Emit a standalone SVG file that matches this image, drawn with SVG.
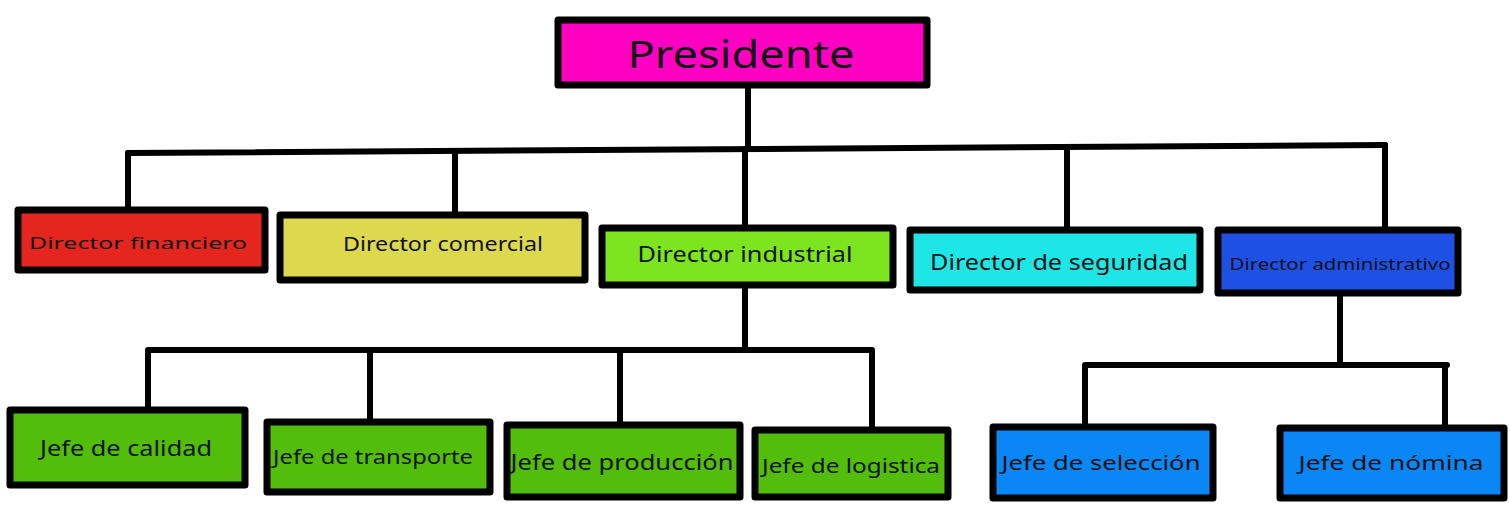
<svg xmlns="http://www.w3.org/2000/svg" width="1510" height="505" viewBox="0 0 1510 505">
<style>
.box{stroke:#000;stroke-width:7;stroke-linejoin:round}
.lbl{font-family:"Noto Sans","DejaVu Sans",sans-serif;fill:#111;text-anchor:middle;dominant-baseline:central}
.con{stroke:#000;stroke-width:6;fill:none;stroke-linecap:round;stroke-linejoin:round}
</style>
<rect width="1510" height="505" fill="#fff"/>
<g id="connectors">
<path class="con" d="M748 85 V149"/>
<path class="con" d="M128 153 L1385 145"/>
<path class="con" d="M128 153 V210 M455 151 V215 M745 149 V228 M1067 147 V230 M1385 145 V230"/>
<path class="con" d="M745 285 V350 M148 350 H872 M148 350 V410 M370 350 V422 M620 350 V425 M872 350 V430"/>
<path class="con" d="M1340 293 V365 M1085 365 H1447 M1085 365 V426 M1445 365 V428"/>
</g>
<g id="presidente"><rect class="box" x="558" y="20" width="369" height="65" fill="#ff00c3"/><text class="lbl" x="741" y="53" font-size="38" textLength="227" lengthAdjust="spacingAndGlyphs">Presidente</text></g>
<g id="dir-financiero"><rect class="box" x="18" y="210" width="247" height="60" fill="#e4261f"/><text class="lbl" x="138" y="242" font-size="17" textLength="218" lengthAdjust="spacingAndGlyphs">Director financiero</text></g>
<g id="dir-comercial"><rect class="box" x="280" y="215" width="305" height="65" fill="#dcd94e"/><text class="lbl" x="443" y="244" font-size="19" textLength="200" lengthAdjust="spacingAndGlyphs">Director comercial</text></g>
<g id="dir-industrial"><rect class="box" x="602" y="228" width="291" height="57" fill="#7de51f"/><text class="lbl" x="745" y="254" font-size="21" textLength="215" lengthAdjust="spacingAndGlyphs">Director industrial</text></g>
<g id="dir-seguridad"><rect class="box" x="910" y="230" width="290" height="60" fill="#1ee6e6"/><text class="lbl" x="1059" y="261" font-size="22" textLength="258" lengthAdjust="spacingAndGlyphs">Director de seguridad</text></g>
<g id="dir-administrativo"><rect class="box" x="1218" y="230" width="240" height="63" fill="#1f50e6"/><text class="lbl" x="1340" y="264" font-size="16" textLength="221" lengthAdjust="spacingAndGlyphs">Director administrativo</text></g>
<g id="jefe-calidad"><rect class="box" x="10" y="410" width="235" height="75" fill="#52bd0a"/><text class="lbl" x="126" y="448" font-size="21" textLength="172" lengthAdjust="spacingAndGlyphs">Jefe de calidad</text></g>
<g id="jefe-transporte"><rect class="box" x="267" y="422" width="223" height="70" fill="#52bd0a"/><text class="lbl" x="373" y="457" font-size="19" textLength="200" lengthAdjust="spacingAndGlyphs">Jefe de transporte</text></g>
<g id="jefe-produccion"><rect class="box" x="507" y="425" width="233" height="72" fill="#52bd0a"/><text class="lbl" x="622" y="462" font-size="21" textLength="223" lengthAdjust="spacingAndGlyphs">Jefe de producción</text></g>
<g id="jefe-logistica"><rect class="box" x="755" y="430" width="193" height="67" fill="#52bd0a"/><text class="lbl" x="851" y="465" font-size="20" textLength="178" lengthAdjust="spacingAndGlyphs">Jefe de logistica</text></g>
<g id="jefe-seleccion"><rect class="box" x="993" y="427" width="220" height="71" fill="#0a86f5"/><text class="lbl" x="1101" y="462" font-size="20" textLength="199" lengthAdjust="spacingAndGlyphs">Jefe de selección</text></g>
<g id="jefe-nomina"><rect class="box" x="1280" y="428" width="224" height="70" fill="#0a86f5"/><text class="lbl" x="1391" y="462" font-size="20" textLength="185" lengthAdjust="spacingAndGlyphs">Jefe de nómina</text></g>
</svg>
